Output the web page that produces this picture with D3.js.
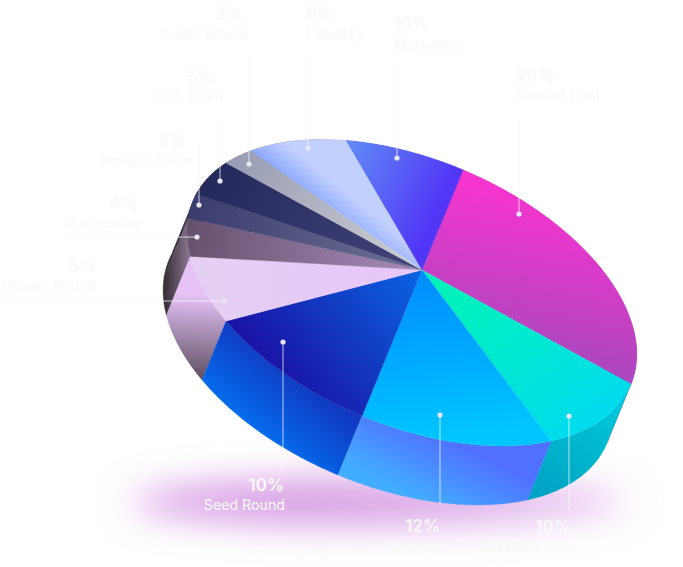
<!DOCTYPE html>
<html>
<head>
<meta charset="utf-8">
<style>html,body{margin:0;padding:0;background:#fff}svg{display:block}</style>
<script src="https://cdn.jsdelivr.net/npm/d3@7/dist/d3.min.js"></script>
</head>
<body>
<script>
// ---- data ----
const categories = ["Reward Pool","Staking Pool","Reserve","Seed Round","Private Round","Partnership","Advisor Team","Core Team","Public Round","Liquidity","Marketing"];
const shares = [28,10,12,10,6,4,3,5,3,9,10];

// ---- styles: [x1,y1,x2,y2,[stops]] ----
const topFill = [
 [560,190,520,365,["#fb33cf","#a648bd"]],
 [450,290,560,440,["#00f2ba","#00dcec"]],
 [420,280,440,440,["#008fff","#00c6ff"]],
 [420,280,285,385,["#0a62e0","#1a14a6"]],
 [200,270,400,290,["#e4d0f2","#e8c6fa"]],
 [190,235,420,270,["#67526e","#aa8abc"]],
 [190,210,420,270,["#3a3c6e","#6e7294"]],
 [205,180,420,270,["#25285a","#42447a"]],
 [240,160,420,270,["#9a9eb4","#cfd0d4"]],
 [252,151,269,130,["#8ca8ff","#c2d0fd"]],
 [350,150,445,195,["#6088f6","#5236f6"]]
];
const sideFill = [
 [600,400,540,490,["#c040b8","#a040b8"]],
 [600,400,545,490,["#00c6d8","#00a4c4"]],
 [470,450,440,510,["#5070ff","#42acff"]],
 [320,390,270,450,["#1038c0","#0470f0"]],
 [200,295,195,380,["#e6c2f6","#5c4c60"]],
 [165,280,190,280,["#3a3038","#8a7890"]],
 [165,270,190,270,["#2a2830","#3a3a50"]],
 [190,200,210,190,["#2a2830","#3a3a50"]],
 [230,170,260,160,["#888888","#aaaaaa"]],
 [300,160,320,170,["#9999aa","#bbbbcc"]],
 [400,170,420,180,["#5555ff","#5555ff"]]
];

// ---- annotation layout: dot, leader end, number & name anchors ----
const dotPos = [[519,214],[569,416],[440,415],[283,342],[224,301],[197,237],[199,205],[220,181],[249,164],[308,148],[397,158]];
const leaderEnd = [[519,120],[569,510],[440,505],[283,473],[0,301],[66,238],[199,142],[220,118],[249,53],[308,53],[397,66]];
const labelPos = [
 {a:"start",nx:516,ny:81,tx:516,ty:100},
 {a:"end",nx:571,ny:533,tx:573,ty:552},
 {a:"end",nx:440,ny:532,tx:443,ty:552},
 {a:"end",nx:284,ny:491,tx:285,ty:510},
 {a:"end",nx:96,ny:272,tx:96,ty:291},
 {a:"end",nx:138,ny:209,tx:144,ty:228},
 {a:"end",nx:186,ny:147,tx:192,ty:166},
 {a:"end",nx:215,ny:83,tx:223,ty:102},
 {a:"end",nx:243,ny:20,tx:248,ty:39},
 {a:"start",nx:306,ny:20,tx:306,ty:39},
 {a:"start",nx:393,ny:30,tx:394,ty:50}
];

// ---- perspective projection of the unit disc ----
const apex=[422,270], M={a:48.7,b:215.2,d:-118.7,e:89.8,g:.187,h:.003};
const depth=[-24,59];
function project(angle,r=1){
  const u=r*Math.cos(angle), v=r*Math.sin(angle), w=M.g*u+M.h*v+1;
  return [apex[0]+(M.a*u+M.b*v)/w, apex[1]+(M.d*u+M.e*v)/w];
}

const W=683,H=567;
const svg=d3.select("body").append("svg").attr("width",W).attr("height",H).attr("viewBox",`0 0 ${W} ${H}`);
const defs=svg.append("defs");
function grad(id,g){
  const lg=defs.append("linearGradient").attr("id",id).attr("gradientUnits","userSpaceOnUse")
    .attr("x1",g[0]).attr("y1",g[1]).attr("x2",g[2]).attr("y2",g[3]);
  g[4].forEach((c,i)=>lg.append("stop").attr("offset",i/(g[4].length-1)).attr("stop-color",c));
}
topFill.forEach((g,i)=>grad("t"+i,g));
sideFill.forEach((g,i)=>grad("s"+i,g));
grad("shadowFill",[130,0,630,0,["#d494e2","#d496e2","#dcaae8","#e8c6f0"]]);
defs.append("filter").attr("id","blur").attr("x","-30%").attr("y","-200%").attr("width","160%").attr("height","500%")
  .append("feGaussianBlur").attr("stdDeviation",18);

// floor shadow
svg.append("ellipse").attr("cx",380).attr("cy",502).attr("rx",248).attr("ry",23)
  .attr("fill","url(#shadowFill)").attr("filter","url(#blur)");

const pie=d3.pie().sort(null).value(d=>d)(shares);
const line=d3.line();
const rim=d=>{
  const n=Math.max(4,Math.ceil((d.endAngle-d.startAngle)*80));
  return d3.range(n+1).map(i=>project(d.startAngle+(d.endAngle-d.startAngle)*i/n));
};

// side walls, back to front
const sides=pie.map((d,i)=>{
  const top=rim(d), low=top.map(p=>[p[0]+depth[0],p[1]+depth[1]]).reverse();
  return {i,pts:top.concat(low),my:d3.mean(top,p=>p[1])};
}).sort((a,b)=>a.my-b.my);
svg.append("g").selectAll("path").data(sides).join("path")
  .attr("d",s=>line(s.pts)+"Z").attr("fill",s=>`url(#s${s.i})`).attr("stroke",s=>`url(#s${s.i})`).attr("stroke-width",.4);

// top faces
svg.append("g").selectAll("path").data(pie).join("path")
  .attr("d",d=>line([apex].concat(rim(d)))+"Z")
  .attr("fill",(d,i)=>`url(#t${i})`).attr("stroke",(d,i)=>`url(#t${i})`).attr("stroke-width",.3);

// leaders & dots
const ann=svg.append("g");
ann.selectAll("line").data(categories).join("line")
  .attr("x1",(d,i)=>dotPos[i][0]).attr("y1",(d,i)=>dotPos[i][1])
  .attr("x2",(d,i)=>leaderEnd[i][0]).attr("y2",(d,i)=>leaderEnd[i][1])
  .attr("stroke","#f8f8fb").attr("stroke-opacity",.75).attr("stroke-width",1);
ann.selectAll("circle").data(categories).join("circle")
  .attr("cx",(d,i)=>dotPos[i][0]).attr("cy",(d,i)=>dotPos[i][1]).attr("r",2.6)
  .attr("fill","#e6e8f4");

// labels
const font="Inter, 'Open Sans', sans-serif";
const lab=svg.append("g").attr("font-family",font).attr("fill","#f9f9f9");
lab.selectAll("text.n").data(shares).join("text").attr("class","n")
  .attr("x",(d,i)=>labelPos[i].nx).attr("y",(d,i)=>labelPos[i].ny)
  .attr("text-anchor",(d,i)=>labelPos[i].a)
  .attr("font-size",17).attr("font-weight",600).text(d=>d+"%");
lab.selectAll("text.t").data(categories).join("text").attr("class","t")
  .attr("x",(d,i)=>labelPos[i].tx).attr("y",(d,i)=>labelPos[i].ty)
  .attr("text-anchor",(d,i)=>labelPos[i].a)
  .attr("font-size",14.2).text(d=>d);
</script>
</body>
</html>
